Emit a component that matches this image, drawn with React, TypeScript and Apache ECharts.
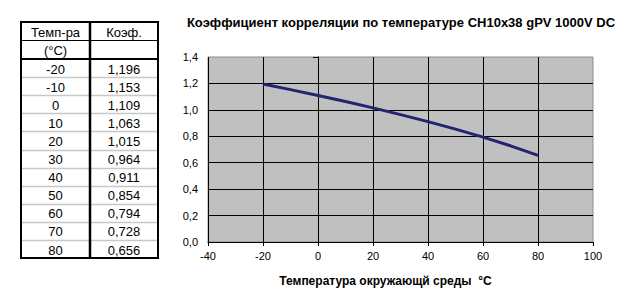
import React, { useEffect, useRef } from "react";
import * as echarts from "echarts";

const temps = [-20, -10, 0, 10, 20, 30, 40, 50, 60, 70, 80];
const coefs = [1.196, 1.153, 1.109, 1.063, 1.015, 0.964, 0.911, 0.854, 0.794, 0.728, 0.656];
const titleText = "Коэффициент корреляции по температуре CH10x38 gPV 1000V DC";
const xAxisName = "Температура окружающй среды  °C";
const tableHead1 = ["Темп-ра", "Коэф."];
const tableHead2 = ["(°C)", ""];

const FONT = "'Liberation Sans', Arial, sans-serif";

function buildTable(): any[] {
  const L = 21, M = 90, R = 158;
  const top = 22, h1 = 40, h2 = 59, rowH = 18.1;
  const bottom = h2 + rowH * temps.length;
  const els: any[] = [];
  const c1 = (L + M) / 2, c2 = (M + R) / 2;
  for (let i = 1; i < temps.length; i++) {
    const y = Math.round(h2 + rowH * i) + 0.5;
    els.push({ type: "line", shape: { x1: L, y1: y, x2: R, y2: y }, style: { stroke: "#c8c8c8", lineWidth: 1.5 } });
  }
  els.push({ type: "line", shape: { x1: L, y1: h1 + 0.5, x2: R, y2: h1 + 0.5 }, style: { stroke: "#000", lineWidth: 1 } });
  els.push({ type: "line", shape: { x1: L, y1: h2, x2: R, y2: h2 }, style: { stroke: "#000", lineWidth: 2 } });
  els.push({ type: "line", shape: { x1: M, y1: top, x2: M, y2: bottom }, style: { stroke: "#000", lineWidth: 2.5 } });
  els.push({ type: "rect", shape: { x: L, y: top, width: R - L, height: bottom - top }, style: { fill: "none", stroke: "#000", lineWidth: 2 } });
  const txt = (x: number, y: number, s: string) => ({
    type: "text", x, y,
    style: { text: s, fill: "#000", font: `13px ${FONT}`, textAlign: "center", textVerticalAlign: "middle" },
  });
  els.push(txt(c1, (top + h1) / 2 + 1, tableHead1[0]));
  els.push(txt(c2, (top + h1) / 2 + 1, tableHead1[1]));
  els.push(txt(c1, (h1 + h2) / 2 + 1, tableHead2[0]));
  if (tableHead2[1]) els.push(txt(c2, (h1 + h2) / 2 + 1, tableHead2[1]));
  temps.forEach((t, i) => {
    const cy = h2 + rowH * i + rowH / 2 + 1;
    els.push(txt(c1, cy, String(t)));
    els.push(txt(c2, cy, coefs[i].toFixed(3).replace(".", ",")));
  });
  return els;
}

export default function App() {
  const ref = useRef<HTMLDivElement>(null);
  useEffect(() => {
    if (!ref.current) return;
    const chart = echarts.init(ref.current, null, { renderer: "svg" });
    chart.setOption({
      animation: false,
      backgroundColor: "#fff",
      textStyle: { fontFamily: FONT },
      title: {
        text: titleText,
        left: 396,
        textAlign: "center",
        top: 11,
        textStyle: { fontSize: 13, fontWeight: "bold", color: "#000", fontFamily: FONT },
      },
      grid: {
        left: 208, right: 47, top: 57, bottom: 55,
        show: true, backgroundColor: "#C0C0C0", borderColor: "#8c8c8c", borderWidth: 1,
      },
      xAxis: {
        type: "value", min: -40, max: 100, interval: 20,
        name: xAxisName, nameLocation: "middle", nameGap: 33,
        nameTextStyle: { fontSize: 12, fontWeight: "bold", color: "#000", fontFamily: FONT, padding: [0, 30, 0, 0] },
        axisLine: { show: true, onZero: false, lineStyle: { color: "#000", width: 1 } },
        axisTick: { show: true, length: 4, lineStyle: { color: "#000" } },
        axisLabel: { fontSize: 11, color: "#000", margin: 8, fontFamily: FONT },
        splitLine: { show: true, showMaxLine: false, lineStyle: { color: "#000", width: 1 } },
      },
      yAxis: {
        type: "value", min: 0, max: 1.4, interval: 0.2,
        axisLine: { show: true, lineStyle: { color: "#000", width: 1 } },
        axisTick: { show: true, length: 5, lineStyle: { color: "#000" } },
        axisLabel: {
          fontSize: 11, color: "#000", margin: 10, fontFamily: FONT,
          formatter: (v: number) => v.toFixed(1).replace(".", ","),
        },
        splitLine: { show: true, showMaxLine: false, lineStyle: { color: "#000", width: 1 } },
      },
      series: [
        {
          type: "line",
          data: temps.map((t, i) => [t, coefs[i]]),
          symbol: "none",
          lineStyle: { color: "#23236F", width: 3 },
        },
      ],
      graphic: buildTable(),
    });
    return () => chart.dispose();
  }, []);
  return <div ref={ref} style={{ position: "absolute", left: 0, top: 0, width: 640, height: 297 }} />;
}
